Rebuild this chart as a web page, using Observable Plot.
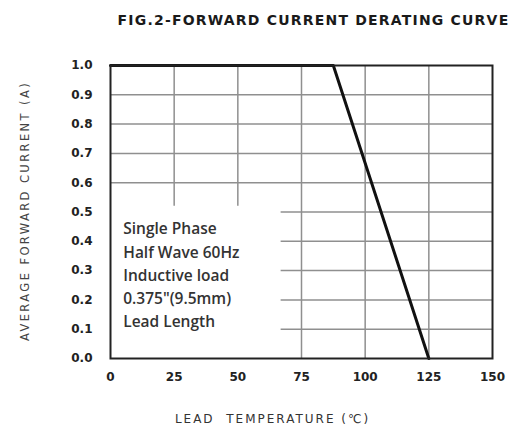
<!DOCTYPE html>
<html><head><meta charset="utf-8">
<script src="https://cdn.jsdelivr.net/npm/d3@7"></script>
<script src="https://cdn.jsdelivr.net/npm/@observablehq/plot@0.6"></script>
<style>body{margin:0;background:#fff;}</style>
</head><body><div id="chart"></div>
<script>
const title = "FIG.2-FORWARD CURRENT DERATING CURVE";
const xLabel = "LEAD  TEMPERATURE (\u2103)";
const yLabel = "AVERAGE FORWARD CURRENT (A)";
const xTicks = [0, 25, 50, 75, 100, 125, 150];
const yTicks = [0, 0.1, 0.2, 0.3, 0.4, 0.5, 0.6, 0.7, 0.8, 0.9, 1.0];
const leadTemp = [0, 87.5, 125];
const avgCurrent = [1.0, 1.0, 0.0];
const noteLines = ["Single Phase", "Half Wave 60Hz", "Inductive load", "0.375\"(9.5mm)", "Lead Length"];
// extent of the note area where the grid is left blank
const noteEndTemp = 67;
const noteTopCurrent = 0.52;

const curve = leadTemp.map((t, i) => ({t, c: avgCurrent[i]}));
const vGrid = xTicks.slice(1, -1).map(t => ({t, y1: t < noteEndTemp ? noteTopCurrent : 0, y2: 1}));
const hGrid = yTicks.slice(1, -1).map(c => ({c, x1: c < noteTopCurrent ? noteEndTemp : 0, x2: 150}));

const sans = "DejaVu Sans";
const chart = Plot.plot({
  width: 514, height: 435,
  marginLeft: 110, marginRight: 22, marginTop: 65, marginBottom: 77,
  style: {fontFamily: sans, background: "white", color: "#222"},
  x: {domain: [0, 150], axis: null},
  y: {domain: [0, 1], axis: null},
  marks: [
    Plot.ruleX(vGrid, {x: "t", y1: "y1", y2: "y2", stroke: "#8f8f8f", strokeWidth: 1.5}),
    Plot.ruleY(hGrid, {y: "c", x1: "x1", x2: "x2", stroke: "#8f8f8f", strokeWidth: 1.5}),
    Plot.line(curve, {x: "t", y: "c", stroke: "#111", strokeWidth: 3}),
    Plot.frame({stroke: "#222", strokeWidth: 2}),
    Plot.text(xTicks, {x: d => d, frameAnchor: "bottom", dy: 22, text: d => String(d), fontFamily: sans, fontWeight: "bold", fontSize: 12, fill: "#222"}),
    Plot.text(yTicks, {y: d => d, frameAnchor: "left", dx: -18, textAnchor: "end", text: d => d3.format(".1f")(d), fontFamily: sans, fontWeight: "bold", fontSize: 12, fill: "#222"}),
    Plot.text([noteLines.join("\n")], {x: 5, y: 0.29, text: d => d, textAnchor: "start", lineAnchor: "middle", lineHeight: 1.5, fontFamily: "Open Sans", fontWeight: 600, fontSize: 15.5, fill: "#333"}),
    Plot.text([title], {frameAnchor: "top", textAnchor: "middle", dx: 12, dy: -50, text: d => d, fontFamily: sans, fontWeight: "bold", fontSize: 14, fill: "#1a1a1a"}),
    Plot.text([yLabel], {frameAnchor: "left", textAnchor: "middle", rotate: -90, dx: -85, dy: -1, text: d => d, fontFamily: sans, fontSize: 11.5, fill: "#444"}),
    Plot.text([xLabel], {frameAnchor: "bottom", textAnchor: "middle", dx: -29, dy: 64, text: d => d, fontFamily: sans, fontSize: 12, fill: "#333"})
  ]
});
document.getElementById("chart").appendChild(chart);
d3.select(chart).selectAll("text").each(function() {
  const s = this.textContent;
  if (s === title) this.style.letterSpacing = "1.2px";
  if (s === yLabel) this.style.letterSpacing = "2.4px";
  if (s === xLabel) this.style.letterSpacing = "2px";
});
</script>
</body></html>
